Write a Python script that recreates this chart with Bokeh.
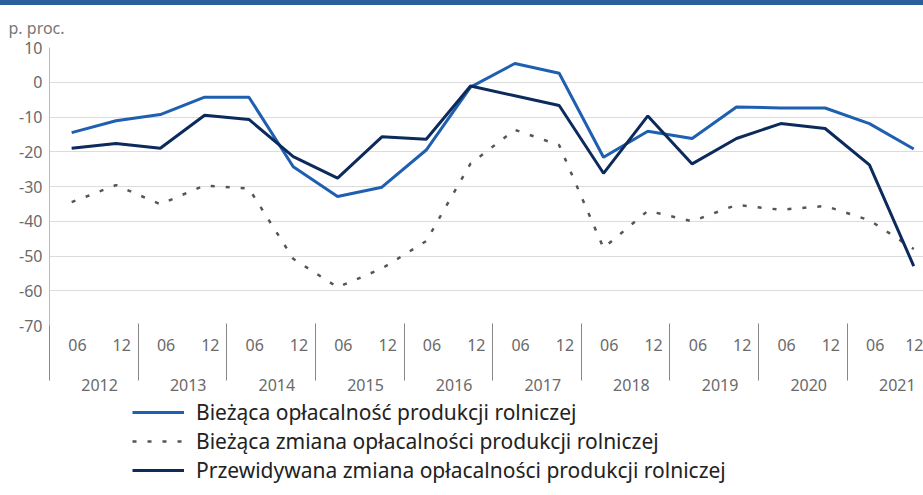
from bokeh.plotting import figure
from bokeh.layouts import column
from bokeh.models import (Range1d, LinearAxis, FixedTicker, Legend, LegendItem, Title, Div)
from bokeh.embed import file_html
from bokeh.resources import INLINE

years = ["2012", "2013", "2014", "2015", "2016", "2017", "2018", "2019", "2020", "2021"]
months = ["06", "12"]
yvals = list(range(-70, 11, 10))

biezaca = [-14.5, -11.1, -9.3, -4.3, -4.3, -24.3, -32.9, -30.2, -19.5, -1.4,
           5.4, 2.6, -21.6, -14.1, -16.2, -7.1, -7.4, -7.4, -11.9, -19.2]
zmiana = [-34.5, -29.6, -35.1, -29.7, -30.6, -50.8, -59.0, -53.6, -45.7, -23.4,
          -13.7, -18.1, -47.7, -37.0, -40.0, -35.3, -36.7, -35.6, -39.7, -48.0]
przewidywana = [-19.0, -17.6, -19.0, -9.5, -10.7, -21.4, -27.6, -15.7, -16.4, -1.1,
                -3.9, -6.7, -26.2, -9.7, -23.5, -16.2, -11.9, -13.3, -23.8, -52.9]

labels = ["Bieżąca opłacalność produkcji rolniczej",
          "Bieżąca zmiana opłacalności produkcji rolniczej",
          "Przewidywana zmiana opłacalności produkcji rolniczej"]

n = len(years) * len(months)
xs = list(range(n))
FONT = "Noto Sans"
SHIFT = 0.13
TICK_FS = "16px"
TICK_COLOR = "#6a6a6a"
STYLES = [dict(line_color="#1f5fb0", line_width=3),
          dict(line_color="#555555", line_width=2.5, line_dash="4 11"),
          dict(line_color="#0c2a5c", line_width=3)]

# top blue band
band = Div(text="", width=923, height=5, margin=0,
           styles={"background-color": "#2a5e9c", "width": "923px", "height": "5px"})

# main chart
p = figure(width=923, height=392, x_range=Range1d(-0.5, 19.22), y_range=Range1d(-70, 10),
           output_backend="svg", toolbar_location=None,
           min_border_left=49, min_border_right=0, min_border_top=40, min_border_bottom=72)
p.outline_line_color = None
p.xgrid.grid_line_color = None
p.ygrid.grid_line_color = "#dcdcdc"
p.ygrid.ticker = FixedTicker(ticks=yvals)

p.yaxis.ticker = FixedTicker(ticks=yvals)
p.yaxis.major_label_overrides = {v: str(v) for v in yvals}
p.yaxis.major_tick_line_color = None
p.yaxis.major_tick_out = 0
p.yaxis.minor_tick_line_color = None
p.yaxis.axis_line_color = "#bbbbbb"
p.yaxis.major_label_standoff = 7
p.yaxis.major_label_text_font = FONT
p.yaxis.major_label_text_font_size = TICK_FS
p.yaxis.major_label_text_color = TICK_COLOR

mticks = [i + SHIFT for i in xs]
p.xaxis.ticker = FixedTicker(ticks=mticks, minor_ticks=[])
p.xaxis.major_label_overrides = {t: months[i % 2] for i, t in enumerate(mticks)}
p.xaxis.axis_line_color = None
p.xaxis.major_tick_line_color = None
p.xaxis.major_tick_out = 0
p.xaxis.minor_tick_out = 0
p.xaxis.minor_tick_line_color = None
p.xaxis.major_label_standoff = 13
p.xaxis.major_label_text_font = FONT
p.xaxis.major_label_text_font_size = TICK_FS
p.xaxis.major_label_text_color = TICK_COLOR

yticks = [2 * k + 0.5 + SHIFT for k in range(len(years))]
yax = LinearAxis(ticker=FixedTicker(ticks=yticks, minor_ticks=[2 * k - 0.5 for k in range(len(years))]),
                 major_label_overrides={t: years[k] for k, t in enumerate(yticks)})
yax.axis_line_color = None
yax.major_tick_line_color = None
yax.major_tick_out = 0
yax.minor_tick_line_color = "#888888"
yax.minor_tick_in = 30
yax.minor_tick_out = 27
yax.major_label_standoff = -2
yax.major_label_text_font = FONT
yax.major_label_text_font_size = TICK_FS
yax.major_label_text_color = TICK_COLOR
p.add_layout(yax, "below")

for vals, st in zip([biezaca, zmiana, przewidywana], STYLES):
    p.line(xs, vals, **st)

p.add_layout(Title(text="p. proc.", align="left", offset=-41, text_font=FONT,
                   text_font_size="16px", text_color="#777777", text_font_style="normal",
                   standoff=18), "above")

# legend panel (its lines lie outside its visible range; only the legend shows)
lg = figure(width=923, height=98, output_backend="svg", toolbar_location=None,
            min_border=0, x_range=Range1d(1000, 1001), y_range=Range1d(1000, 1001))
lg.axis.visible = False
lg.grid.grid_line_color = None
lg.outline_line_color = None
rs = [lg.line(xs, vals, **st) for vals, st in zip([biezaca, zmiana, przewidywana], STYLES)]
legend = Legend(items=[LegendItem(label=l, renderers=[r]) for l, r in zip(labels, rs)],
                location=(83, 11), orientation="vertical")
legend.border_line_color = None
legend.background_fill_alpha = 0
legend.label_text_font = FONT
legend.label_text_font_size = "21px"
legend.label_text_color = "#222222"
legend.glyph_width = 52
legend.glyph_height = 24
legend.label_height = 24
legend.label_standoff = 12
legend.spacing = 1
legend.padding = 0
legend.margin = 0
lg.add_layout(legend, "center")

layout = column(band, p, lg, spacing=0)
open("out.html", "w").write(file_html(layout, INLINE))
